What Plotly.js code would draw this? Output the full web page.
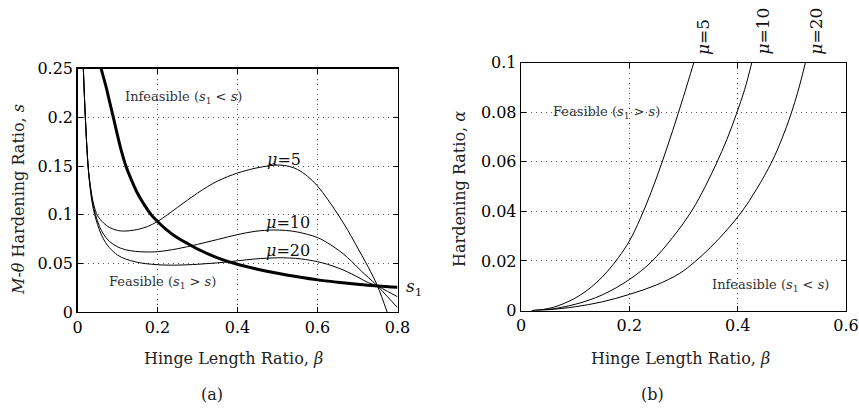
<!DOCTYPE html>
<html>
<head>
<meta charset="utf-8">
<script src="https://cdn.plot.ly/plotly-3.0.1.min.js"></script>
<style>html,body{margin:0;padding:0;background:#fff;}#chart{width:859px;height:409px;}</style>
</head>
<body>
<div id="chart"></div>
<script>
// ---- Panel (a): M-theta hardening ratio s vs hinge length ratio beta ----
const betaS1 = [0.059, 0.065, 0.072, 0.08, 0.0896, 0.1, 0.11, 0.121, 0.135, 0.15, 0.165, 0.184, 0.2, 0.22, 0.245, 0.271, 0.3, 0.35, 0.4, 0.45, 0.5, 0.55, 0.6, 0.65, 0.7, 0.75, 0.8];
const sS1    = [0.25, 0.241, 0.2305, 0.2165, 0.2, 0.1815, 0.165, 0.150, 0.1355, 0.122, 0.1115, 0.100, 0.093, 0.0855, 0.0776, 0.0713, 0.0647, 0.0557, 0.049, 0.044, 0.0398, 0.0362, 0.033, 0.0306, 0.0286, 0.0267, 0.0254];

const betaMu5a = [0.0146, 0.0196, 0.0265, 0.032, 0.038, 0.045, 0.05, 0.065, 0.08, 0.1, 0.113, 0.13, 0.15, 0.175, 0.2, 0.225, 0.25, 0.275, 0.3, 0.325, 0.35, 0.375, 0.4, 0.444, 0.48, 0.506, 0.53, 0.55, 0.575, 0.6, 0.625, 0.652, 0.675, 0.694, 0.711, 0.727, 0.75, 0.774];
const sMu5a    = [0.25, 0.2, 0.15, 0.13, 0.115, 0.104, 0.099, 0.0915, 0.0868, 0.0838, 0.0832, 0.0835, 0.0848, 0.0878, 0.093, 0.1, 0.1075, 0.115, 0.1222, 0.1288, 0.1345, 0.139, 0.1428, 0.1477, 0.1503, 0.151, 0.1495, 0.1465, 0.1395, 0.1295, 0.116, 0.0997, 0.0845, 0.0706, 0.058, 0.046, 0.0267, 0.0];

const betaMu10a = [0.0146, 0.0196, 0.0265, 0.032, 0.038, 0.045, 0.055, 0.065, 0.08, 0.1, 0.12, 0.145, 0.171, 0.2, 0.25, 0.3, 0.35, 0.4, 0.444, 0.49, 0.52, 0.55, 0.6, 0.625, 0.652, 0.675, 0.694, 0.711, 0.727, 0.75, 0.775, 0.8];
const sMu10a    = [0.25, 0.2, 0.15, 0.128, 0.112, 0.1, 0.088, 0.08, 0.0725, 0.067, 0.064, 0.0623, 0.0617, 0.062, 0.065, 0.0695, 0.0745, 0.0795, 0.0829, 0.0843, 0.0838, 0.0822, 0.0765, 0.071, 0.0637, 0.056, 0.0485, 0.0415, 0.0355, 0.0267, 0.0157, 0.0045];

const betaMu20a = [0.0146, 0.0196, 0.0265, 0.032, 0.038, 0.043, 0.05, 0.06, 0.07, 0.08, 0.1, 0.12, 0.145, 0.17, 0.2, 0.221, 0.25, 0.3, 0.35, 0.4, 0.444, 0.5, 0.53, 0.56, 0.6, 0.625, 0.652, 0.675, 0.694, 0.711, 0.727, 0.75, 0.775, 0.8];
const sMu20a    = [0.25, 0.2, 0.15, 0.126, 0.109, 0.1, 0.09, 0.079, 0.0715, 0.066, 0.0585, 0.0545, 0.0515, 0.0497, 0.0486, 0.0482, 0.0482, 0.049, 0.0505, 0.0526, 0.0545, 0.0557, 0.0555, 0.0545, 0.0517, 0.049, 0.0452, 0.0412, 0.0373, 0.0336, 0.0302, 0.0267, 0.0212, 0.0157];

const ticksXa = [0, 0.2, 0.4, 0.6, 0.8];
const tickTextXa = ["0", "0.2", "0.4", "0.6", "0.8"];
const ticksYa = [0, 0.05, 0.1, 0.15, 0.2, 0.25];
const tickTextYa = ["0", "0.05", "0.1", "0.15", "0.2", "0.25"];

// ---- Panel (b): hardening ratio alpha vs hinge length ratio beta ----
const betaMu5b  = [0.02, 0.04, 0.06, 0.08, 0.1, 0.12, 0.14, 0.16, 0.18, 0.2, 0.22, 0.24, 0.26, 0.28, 0.3, 0.319];
const alphaMu5b = [0, 0.0004, 0.0013, 0.0029, 0.005, 0.0078, 0.0114, 0.0159, 0.0214, 0.028, 0.037, 0.0476, 0.0596, 0.0726, 0.0864, 0.1];

const betaMu10b  = [0.02, 0.05, 0.1, 0.15, 0.2, 0.24, 0.28, 0.316, 0.34, 0.361, 0.38, 0.398, 0.413, 0.426];
const alphaMu10b = [0, 0.0004, 0.0025, 0.0063, 0.0125, 0.0195, 0.0295, 0.0405, 0.05, 0.0595, 0.069, 0.0795, 0.0893, 0.1];

const betaMu20b  = [0.02, 0.05, 0.1, 0.15, 0.2, 0.25, 0.293, 0.32, 0.35, 0.38, 0.408, 0.435, 0.463, 0.482, 0.498, 0.512, 0.525];
const alphaMu20b = [0, 0.0003, 0.0015, 0.0035, 0.0065, 0.0103, 0.015, 0.0195, 0.0255, 0.0325, 0.04, 0.049, 0.06, 0.0695, 0.079, 0.089, 0.1];

const ticksXb = [0, 0.2, 0.4, 0.6];
const tickTextXb = ["0", "0.2", "0.4", "0.6"];
const ticksYb = [0, 0.02, 0.04, 0.06, 0.08, 0.1];
const tickTextYb = ["0", "0.02", "0.04", "0.06", "0.08", "0.1"];

const serif = "DejaVu Serif, Liberation Serif, serif";
const thin = {color: "#000", width: 1, shape: "spline", smoothing: 1};

const traces = [
  {x: betaMu5a, y: sMu5a, mode: "lines", line: thin, xaxis: "x", yaxis: "y", hoverinfo: "skip"},
  {x: betaMu10a, y: sMu10a, mode: "lines", line: thin, xaxis: "x", yaxis: "y", hoverinfo: "skip"},
  {x: betaMu20a, y: sMu20a, mode: "lines", line: thin, xaxis: "x", yaxis: "y", hoverinfo: "skip"},
  {x: betaS1, y: sS1, mode: "lines", line: {color: "#000", width: 3, shape: "spline", smoothing: 1}, xaxis: "x", yaxis: "y", hoverinfo: "skip"},
  {x: betaMu5b, y: alphaMu5b, mode: "lines", line: thin, xaxis: "x2", yaxis: "y2", hoverinfo: "skip"},
  {x: betaMu10b, y: alphaMu10b, mode: "lines", line: thin, xaxis: "x2", yaxis: "y2", hoverinfo: "skip"},
  {x: betaMu20b, y: alphaMu20b, mode: "lines", line: thin, xaxis: "x2", yaxis: "y2", hoverinfo: "skip"}
];

function axis(domain, range, tv, tt, anchor) {
  return {
    domain: domain, range: range, anchor: anchor,
    tickvals: tv, ticktext: tt,
    ticks: "inside", ticklen: 5, tickcolor: "#000", tickwidth: 1,
    showline: true, linecolor: "#000", linewidth: 1.3, mirror: "ticks",
    showgrid: true, gridcolor: "#555", gridwidth: 1, griddash: "1px,4px",
    zeroline: false,
    tickfont: {family: serif, size: 16, color: "#000"},
    fixedrange: true
  };
}

const W = 859, H = 409;
const px = v => v / W;
const py = v => (H - v) / H;

const annFont = {family: serif, size: 13, color: "#333"};
const muFont = {family: serif, size: 16, color: "#111"};
const muFontR = {family: serif, size: 17, color: "#111"};
const titleFont = {family: serif, size: 16, color: "#222"};

function note(o) {
  return Object.assign({showarrow: false, xanchor: "center", yanchor: "middle"}, o);
}

const annotations = [
  note({xref: "x", yref: "y", x: 0.266, y: 0.220, text: "Infeasible (<i>s</i><sub>1</sub> &lt; <i>s</i>)", font: annFont}),
  note({xref: "x", yref: "y", x: 0.2125, y: 0.0305, text: "Feasible (<i>s</i><sub>1</sub> &gt; <i>s</i>)", font: annFont}),
  note({xref: "x", yref: "y", x: 0.516, y: 0.157, text: "<i>μ</i>=5", font: muFont}),
  note({xref: "x", yref: "y", x: 0.525, y: 0.092, text: "<i>μ</i>=10", font: muFont}),
  note({xref: "x", yref: "y", x: 0.525, y: 0.063, text: "<i>μ</i>=20", font: muFont}),
  note({xref: "paper", yref: "paper", x: px(404), y: py(287), xanchor: "left", text: "<i>s</i><sub>1</sub>", font: {family: serif, size: 17, color: "#111"}}),
  note({xref: "x2", yref: "y2", x: 0.157, y: 0.08, text: "Feasible (<i>s</i><sub>1</sub> &gt; <i>s</i>)", font: annFont}),
  note({xref: "x2", yref: "y2", x: 0.46, y: 0.0099, text: "Infeasible (<i>s</i><sub>1</sub> &lt; <i>s</i>)", font: annFont}),
  note({xref: "x2", yref: "paper", x: 0.336, y: py(57), yanchor: "bottom", textangle: -90, text: "<i>μ</i>=5", font: muFontR}),
  note({xref: "x2", yref: "paper", x: 0.445, y: py(57), yanchor: "bottom", textangle: -90, text: "<i>μ</i>=10", font: muFontR}),
  note({xref: "x2", yref: "paper", x: 0.543, y: py(57), yanchor: "bottom", textangle: -90, text: "<i>μ</i>=20", font: muFontR}),
  // axis titles
  note({xref: "paper", yref: "paper", x: px(233), y: py(358), text: "Hinge Length Ratio, <i>β</i>", font: titleFont}),
  note({xref: "paper", yref: "paper", x: px(680), y: py(358), text: "Hinge Length Ratio, <i>β</i>", font: titleFont}),
  note({xref: "paper", yref: "paper", x: px(18), y: py(200), textangle: -90, text: "<i>M</i>-<i>θ</i> Hardening Ratio, <i>s</i>", font: titleFont}),
  note({xref: "paper", yref: "paper", x: px(460), y: py(189), textangle: -90, text: "Hardening Ratio, <i>α</i>", font: titleFont}),
  note({xref: "paper", yref: "paper", x: px(212), y: py(394), text: "(a)", font: titleFont}),
  note({xref: "paper", yref: "paper", x: px(652), y: py(394), text: "(b)", font: titleFont})
];

const layout = {
  width: W, height: H,
  margin: {l: 0, r: 0, t: 0, b: 0},
  paper_bgcolor: "#fff", plot_bgcolor: "#fff",
  showlegend: false,
  xaxis: axis([px(77.5), px(397.5)], [0, 0.8], ticksXa, tickTextXa, "y"),
  yaxis: axis([py(312), py(68.7)], [0, 0.25], ticksYa, tickTextYa, "x"),
  xaxis2: axis([px(521), px(846)], [0, 0.6], ticksXb, tickTextXb, "y2"),
  yaxis2: axis([py(310.5), py(62.8)], [0, 0.1], ticksYb, tickTextYb, "x2"),
  annotations: annotations
};

Plotly.newPlot("chart", traces, layout, {displayModeBar: false, staticPlot: true});
</script>
</body>
</html>
